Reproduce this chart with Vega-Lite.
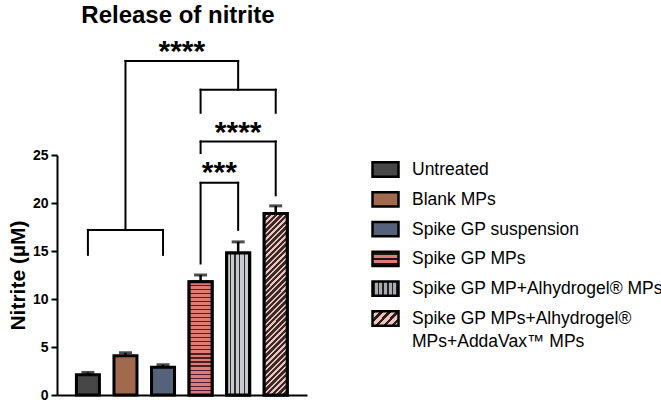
{
  "$schema": "https://vega.github.io/schema/vega-lite/v6.json",
  "autosize": {"type": "none"},
  "padding": {"left": 57, "top": 155, "right": 354, "bottom": 8},
  "width": 250,
  "height": 240,
  "config": {"view": {"stroke": null}, "font": "Liberation Sans"},
  "title": {"text": "Release of nitrite", "fontSize": 24, "font": "Liberation Sans", "fontWeight": "bold", "anchor": "middle", "frame": "group", "offset": 9, "dx": -4, "color": "black"},
  "datasets": {
    "brackets": [
      {"x1": 1, "x2": 3, "y1": 17.2, "y2": 17.2},
      {"x1": 1, "x2": 1, "y1": 14.6, "y2": 17.2},
      {"x1": 3, "x2": 3, "y1": 14.6, "y2": 17.2},
      {"x1": 2, "x2": 2, "y1": 17.2, "y2": 34.8},
      {"x1": 2, "x2": 5, "y1": 34.8, "y2": 34.8},
      {"x1": 5, "x2": 5, "y1": 31.8, "y2": 34.8},
      {"x1": 4, "x2": 6, "y1": 31.8, "y2": 31.8},
      {"x1": 4, "x2": 4, "y1": 29.4, "y2": 31.8},
      {"x1": 6, "x2": 6, "y1": 29.4, "y2": 31.8},
      {"x1": 4, "x2": 6, "y1": 26.4, "y2": 26.4},
      {"x1": 4, "x2": 4, "y1": 25.2, "y2": 26.4},
      {"x1": 6, "x2": 6, "y1": 20.8, "y2": 26.4},
      {"x1": 4, "x2": 5, "y1": 22.1, "y2": 22.1},
      {"x1": 4, "x2": 4, "y1": 13.7, "y2": 22.1},
      {"x1": 5, "x2": 5, "y1": 17.2, "y2": 22.1}
    ],
    "stars": [
      {"x": 3.5, "y": 34.8, "label": "****"},
      {"x": 5, "y": 26.35, "label": "****"},
      {"x": 4.5, "y": 22.2, "label": "***"}
    ]
  },
  "data": {"values": [
    {"group": "Untreated", "x": 1, "nitrite": 2.1, "hi": 2.35},
    {"group": "Blank MPs", "x": 2, "nitrite": 4.1, "hi": 4.4},
    {"group": "Spike GP suspension", "x": 3, "nitrite": 2.9, "hi": 3.15},
    {"group": "Spike GP MPs", "x": 4, "nitrite": 11.8, "hi": 12.5},
    {"group": "Spike GP MP+Alhydrogel® MPs", "x": 5, "nitrite": 14.8, "hi": 15.95},
    {"group": "Spike GP MPs+Alhydrogel® MPs+AddaVax™ MPs", "x": 6, "nitrite": 18.9, "hi": 19.7}
  ]},
  "layer": [
    {
      "mark": {"type": "bar", "width": 23, "stroke": "black", "strokeWidth": 3},
      "encoding": {
        "x": {"field": "x", "type": "quantitative", "title": null,
              "scale": {"domain": [0.31, 6.7], "nice": false, "zero": false},
              "axis": {"ticks": false, "labels": false, "grid": false, "domainWidth": 2, "domainColor": "black"}},
        "y": {"field": "nitrite", "type": "quantitative", "title": "Nitrite (µM)",
              "scale": {"domain": [0, 25], "nice": false},
              "axis": {"values": [0, 5, 10, 15, 20, 25], "grid": false, "domainWidth": 2, "domainColor": "black",
                       "tickColor": "black", "tickWidth": 2, "tickSize": 6, "labelPadding": 3,
                       "labelFont": "Liberation Sans", "labelFontWeight": "bold", "labelFontSize": 14, "labelColor": "black",
                       "titleFont": "Liberation Sans", "titleFontWeight": "bold", "titleFontSize": 21, "titleColor": "black", "titlePadding": 4}},
        "color": {"field": "group", "type": "nominal",
          "scale": {
            "domain": ["Untreated", "Blank MPs", "Spike GP suspension", "Spike GP MPs", "Spike GP MP+Alhydrogel® MPs", "Spike GP MPs+Alhydrogel® MPs+AddaVax™ MPs"],
            "range": [
              "#474747",
              "#a26a4c",
              "#56627a",
              {"expr": "{gradient: 'linear', x1: 0, y1: 0, x2: 0, y2: 1, stops: [{offset: 0, color: '#1e1414'}, {offset: 0.2, color: '#1e1414'}, {offset: 0.2, color: '#e07a7a'}, {offset: 0.42, color: '#e07a7a'}, {offset: 0.42, color: '#1e1414'}, {offset: 0.58, color: '#1e1414'}, {offset: 0.58, color: '#e07a7a'}, {offset: 0.8, color: '#e07a7a'}, {offset: 0.8, color: '#1e1414'}, {offset: 1, color: '#1e1414'}]}"},
              {"expr": "{gradient: 'linear', x1: 0, y1: 0, x2: 1, y2: 0, stops: [{offset: 0, color: '#222222'}, {offset: 0.08, color: '#222222'}, {offset: 0.08, color: '#a9aab0'}, {offset: 0.2, color: '#a9aab0'}, {offset: 0.2, color: '#222222'}, {offset: 0.26, color: '#222222'}, {offset: 0.26, color: '#a9aab0'}, {offset: 0.38, color: '#a9aab0'}, {offset: 0.38, color: '#222222'}, {offset: 0.44, color: '#222222'}, {offset: 0.44, color: '#a9aab0'}, {offset: 0.56, color: '#a9aab0'}, {offset: 0.56, color: '#222222'}, {offset: 0.62, color: '#222222'}, {offset: 0.62, color: '#a9aab0'}, {offset: 0.74, color: '#a9aab0'}, {offset: 0.74, color: '#222222'}, {offset: 0.8, color: '#222222'}, {offset: 0.8, color: '#a9aab0'}, {offset: 0.92, color: '#a9aab0'}, {offset: 0.92, color: '#222222'}, {offset: 1, color: '#222222'}]}"},
              {"expr": "{gradient: 'linear', x1: 0, y1: 0, x2: 1.193, y2: 0.642, stops: [{offset: 0, color: '#2a1c1c'}, {offset: 0.09, color: '#2a1c1c'}, {offset: 0.09, color: '#ecc4bb'}, {offset: 0.2, color: '#ecc4bb'}, {offset: 0.2, color: '#2a1c1c'}, {offset: 0.29, color: '#2a1c1c'}, {offset: 0.29, color: '#ecc4bb'}, {offset: 0.4, color: '#ecc4bb'}, {offset: 0.4, color: '#2a1c1c'}, {offset: 0.49, color: '#2a1c1c'}, {offset: 0.49, color: '#ecc4bb'}, {offset: 0.6, color: '#ecc4bb'}, {offset: 0.6, color: '#2a1c1c'}, {offset: 0.69, color: '#2a1c1c'}, {offset: 0.69, color: '#ecc4bb'}, {offset: 0.8, color: '#ecc4bb'}, {offset: 0.8, color: '#2a1c1c'}, {offset: 0.89, color: '#2a1c1c'}, {offset: 0.89, color: '#ecc4bb'}, {offset: 1, color: '#ecc4bb'}]}"}
            ]
          },
          "legend": {"title": null, "orient": "none", "legendX": 314, "legendY": 0,
                     "symbolType": "M-1,-0.55H1V0.55H-1Z", "symbolSize": 676, "symbolStrokeColor": "black", "symbolStrokeWidth": 2.5,
                     "labelFont": "Liberation Sans", "labelFontSize": 17.5, "labelColor": "black", "labelLimit": 400, "labelOffset": 12, "rowPadding": 2.8,
                     "labelBaseline": "top",
                     "encode": {"labels": {"update": {"dy": {"value": -8.5}, "lineHeight": {"value": 23}}}},
                     "labelExpr": "datum.label == 'Spike GP MPs+Alhydrogel® MPs+AddaVax™ MPs' ? ['Spike GP MPs+Alhydrogel®', 'MPs+AddaVax™ MPs'] : datum.label"}
        }
      }
    },
    {
      "transform": [{"filter": "datum.x == 4"}],
      "mark": {"type": "bar", "width": 23, "stroke": "black", "strokeWidth": 3,
        "fill": {"gradient": "linear", "x1": 0, "y1": 0, "x2": 0, "y2": 1, "stops": [
          {"offset": 0, "color": "#e07a7a"}, {"offset": 0.025, "color": "#e07a7a"}, {"offset": 0.025, "color": "#4a2222"}, {"offset": 0.0357, "color": "#4a2222"},
          {"offset": 0.0357, "color": "#e07a7a"}, {"offset": 0.0607, "color": "#e07a7a"}, {"offset": 0.0607, "color": "#4a2222"}, {"offset": 0.0714, "color": "#4a2222"},
          {"offset": 0.0714, "color": "#e07a7a"}, {"offset": 0.0964, "color": "#e07a7a"}, {"offset": 0.0964, "color": "#4a2222"}, {"offset": 0.1071, "color": "#4a2222"},
          {"offset": 0.1071, "color": "#e07a7a"}, {"offset": 0.1321, "color": "#e07a7a"}, {"offset": 0.1321, "color": "#4a2222"}, {"offset": 0.1429, "color": "#4a2222"},
          {"offset": 0.1429, "color": "#e07a7a"}, {"offset": 0.1679, "color": "#e07a7a"}, {"offset": 0.1679, "color": "#4a2222"}, {"offset": 0.1786, "color": "#4a2222"},
          {"offset": 0.1786, "color": "#e07a7a"}, {"offset": 0.2036, "color": "#e07a7a"}, {"offset": 0.2036, "color": "#4a2222"}, {"offset": 0.2143, "color": "#4a2222"},
          {"offset": 0.2143, "color": "#e07a7a"}, {"offset": 0.2393, "color": "#e07a7a"}, {"offset": 0.2393, "color": "#4a2222"}, {"offset": 0.25, "color": "#4a2222"},
          {"offset": 0.25, "color": "#e07a7a"}, {"offset": 0.275, "color": "#e07a7a"}, {"offset": 0.275, "color": "#4a2222"}, {"offset": 0.2857, "color": "#4a2222"},
          {"offset": 0.2857, "color": "#e07a7a"}, {"offset": 0.3107, "color": "#e07a7a"}, {"offset": 0.3107, "color": "#4a2222"}, {"offset": 0.3214, "color": "#4a2222"},
          {"offset": 0.3214, "color": "#e07a7a"}, {"offset": 0.3464, "color": "#e07a7a"}, {"offset": 0.3464, "color": "#4a2222"}, {"offset": 0.3571, "color": "#4a2222"},
          {"offset": 0.3571, "color": "#e07a7a"}, {"offset": 0.3821, "color": "#e07a7a"}, {"offset": 0.3821, "color": "#4a2222"}, {"offset": 0.3929, "color": "#4a2222"},
          {"offset": 0.3929, "color": "#e07a7a"}, {"offset": 0.4179, "color": "#e07a7a"}, {"offset": 0.4179, "color": "#4a2222"}, {"offset": 0.4286, "color": "#4a2222"},
          {"offset": 0.4286, "color": "#e07a7a"}, {"offset": 0.4536, "color": "#e07a7a"}, {"offset": 0.4536, "color": "#4a2222"}, {"offset": 0.4643, "color": "#4a2222"},
          {"offset": 0.4643, "color": "#e07a7a"}, {"offset": 0.4893, "color": "#e07a7a"}, {"offset": 0.4893, "color": "#4a2222"}, {"offset": 0.5, "color": "#4a2222"},
          {"offset": 0.5, "color": "#e07a7a"}, {"offset": 0.525, "color": "#e07a7a"}, {"offset": 0.525, "color": "#4a2222"}, {"offset": 0.5357, "color": "#4a2222"},
          {"offset": 0.5357, "color": "#e07a7a"}, {"offset": 0.5607, "color": "#e07a7a"}, {"offset": 0.5607, "color": "#4a2222"}, {"offset": 0.5714, "color": "#4a2222"},
          {"offset": 0.5714, "color": "#e07a7a"}, {"offset": 0.5964, "color": "#e07a7a"}, {"offset": 0.5964, "color": "#4a2222"}, {"offset": 0.6071, "color": "#4a2222"},
          {"offset": 0.6071, "color": "#e07a7a"}, {"offset": 0.6321, "color": "#e07a7a"}, {"offset": 0.6321, "color": "#4a2222"}, {"offset": 0.6429, "color": "#4a2222"},
          {"offset": 0.6429, "color": "#e07a7a"}, {"offset": 0.6679, "color": "#e07a7a"}, {"offset": 0.6679, "color": "#4a2222"}, {"offset": 0.6786, "color": "#4a2222"},
          {"offset": 0.6786, "color": "#e07a7a"}, {"offset": 0.7036, "color": "#e07a7a"}, {"offset": 0.7036, "color": "#4a2222"}, {"offset": 0.7143, "color": "#4a2222"},
          {"offset": 0.7143, "color": "#e07a7a"}, {"offset": 0.7393, "color": "#e07a7a"}, {"offset": 0.7393, "color": "#4a2222"}, {"offset": 0.75, "color": "#4a2222"},
          {"offset": 0.75, "color": "#e07a7a"}, {"offset": 0.775, "color": "#e07a7a"}, {"offset": 0.775, "color": "#4a2222"}, {"offset": 0.7857, "color": "#4a2222"},
          {"offset": 0.7857, "color": "#e07a7a"}, {"offset": 0.8107, "color": "#e07a7a"}, {"offset": 0.8107, "color": "#4a2222"}, {"offset": 0.8214, "color": "#4a2222"},
          {"offset": 0.8214, "color": "#e07a7a"}, {"offset": 0.8464, "color": "#e07a7a"}, {"offset": 0.8464, "color": "#4a2222"}, {"offset": 0.8571, "color": "#4a2222"},
          {"offset": 0.8571, "color": "#e07a7a"}, {"offset": 0.8821, "color": "#e07a7a"}, {"offset": 0.8821, "color": "#4a2222"}, {"offset": 0.8929, "color": "#4a2222"},
          {"offset": 0.8929, "color": "#e07a7a"}, {"offset": 0.9179, "color": "#e07a7a"}, {"offset": 0.9179, "color": "#4a2222"}, {"offset": 0.9286, "color": "#4a2222"},
          {"offset": 0.9286, "color": "#e07a7a"}, {"offset": 0.9536, "color": "#e07a7a"}, {"offset": 0.9536, "color": "#4a2222"}, {"offset": 0.9643, "color": "#4a2222"},
          {"offset": 0.9643, "color": "#e07a7a"}, {"offset": 0.9893, "color": "#e07a7a"}, {"offset": 0.9893, "color": "#4a2222"}, {"offset": 1, "color": "#4a2222"}]}},
      "encoding": {
        "x": {"field": "x", "type": "quantitative", "title": null},
        "y": {"field": "nitrite", "type": "quantitative", "title": "Nitrite (µM)"}
      }
    },
    {
      "transform": [{"filter": "datum.x == 5"}],
      "mark": {"type": "bar", "width": 23, "stroke": "black", "strokeWidth": 3,
        "fill": {"gradient": "linear", "x1": 0, "y1": 0, "x2": 1, "y2": 0, "stops": [
          {"offset": 0, "color": "#c8c9ce"}, {"offset": 0.14, "color": "#c8c9ce"}, {"offset": 0.14, "color": "#2d2d2f"}, {"offset": 0.2, "color": "#2d2d2f"},
          {"offset": 0.2, "color": "#c8c9ce"}, {"offset": 0.34, "color": "#c8c9ce"}, {"offset": 0.34, "color": "#2d2d2f"}, {"offset": 0.4, "color": "#2d2d2f"},
          {"offset": 0.4, "color": "#c8c9ce"}, {"offset": 0.54, "color": "#c8c9ce"}, {"offset": 0.54, "color": "#2d2d2f"}, {"offset": 0.6, "color": "#2d2d2f"},
          {"offset": 0.6, "color": "#c8c9ce"}, {"offset": 0.74, "color": "#c8c9ce"}, {"offset": 0.74, "color": "#2d2d2f"}, {"offset": 0.8, "color": "#2d2d2f"},
          {"offset": 0.8, "color": "#c8c9ce"}, {"offset": 0.94, "color": "#c8c9ce"}, {"offset": 0.94, "color": "#2d2d2f"}, {"offset": 1, "color": "#2d2d2f"}]}},
      "encoding": {
        "x": {"field": "x", "type": "quantitative", "title": null},
        "y": {"field": "nitrite", "type": "quantitative", "title": "Nitrite (µM)"}
      }
    },
    {
      "transform": [{"filter": "datum.x == 6"}],
      "mark": {"type": "bar", "width": 23, "stroke": "black", "strokeWidth": 3,
        "fill": {"gradient": "linear", "x1": 0, "y1": 0, "x2": 0.141, "y2": 1.109, "stops": [
          {"offset": 0, "color": "#3b2a2a"}, {"offset": 0.0167, "color": "#3b2a2a"}, {"offset": 0.0167, "color": "#ecc4bb"}, {"offset": 0.0278, "color": "#ecc4bb"},
          {"offset": 0.0278, "color": "#3b2a2a"}, {"offset": 0.0445, "color": "#3b2a2a"}, {"offset": 0.0445, "color": "#ecc4bb"}, {"offset": 0.0556, "color": "#ecc4bb"},
          {"offset": 0.0556, "color": "#3b2a2a"}, {"offset": 0.0723, "color": "#3b2a2a"}, {"offset": 0.0723, "color": "#ecc4bb"}, {"offset": 0.0833, "color": "#ecc4bb"},
          {"offset": 0.0833, "color": "#3b2a2a"}, {"offset": 0.1, "color": "#3b2a2a"}, {"offset": 0.1, "color": "#ecc4bb"}, {"offset": 0.1111, "color": "#ecc4bb"},
          {"offset": 0.1111, "color": "#3b2a2a"}, {"offset": 0.1278, "color": "#3b2a2a"}, {"offset": 0.1278, "color": "#ecc4bb"}, {"offset": 0.1389, "color": "#ecc4bb"},
          {"offset": 0.1389, "color": "#3b2a2a"}, {"offset": 0.1556, "color": "#3b2a2a"}, {"offset": 0.1556, "color": "#ecc4bb"}, {"offset": 0.1667, "color": "#ecc4bb"},
          {"offset": 0.1667, "color": "#3b2a2a"}, {"offset": 0.1834, "color": "#3b2a2a"}, {"offset": 0.1834, "color": "#ecc4bb"}, {"offset": 0.1944, "color": "#ecc4bb"},
          {"offset": 0.1944, "color": "#3b2a2a"}, {"offset": 0.2111, "color": "#3b2a2a"}, {"offset": 0.2111, "color": "#ecc4bb"}, {"offset": 0.2222, "color": "#ecc4bb"},
          {"offset": 0.2222, "color": "#3b2a2a"}, {"offset": 0.2389, "color": "#3b2a2a"}, {"offset": 0.2389, "color": "#ecc4bb"}, {"offset": 0.25, "color": "#ecc4bb"},
          {"offset": 0.25, "color": "#3b2a2a"}, {"offset": 0.2667, "color": "#3b2a2a"}, {"offset": 0.2667, "color": "#ecc4bb"}, {"offset": 0.2778, "color": "#ecc4bb"},
          {"offset": 0.2778, "color": "#3b2a2a"}, {"offset": 0.2945, "color": "#3b2a2a"}, {"offset": 0.2945, "color": "#ecc4bb"}, {"offset": 0.3056, "color": "#ecc4bb"},
          {"offset": 0.3056, "color": "#3b2a2a"}, {"offset": 0.3223, "color": "#3b2a2a"}, {"offset": 0.3223, "color": "#ecc4bb"}, {"offset": 0.3333, "color": "#ecc4bb"},
          {"offset": 0.3333, "color": "#3b2a2a"}, {"offset": 0.35, "color": "#3b2a2a"}, {"offset": 0.35, "color": "#ecc4bb"}, {"offset": 0.3611, "color": "#ecc4bb"},
          {"offset": 0.3611, "color": "#3b2a2a"}, {"offset": 0.3778, "color": "#3b2a2a"}, {"offset": 0.3778, "color": "#ecc4bb"}, {"offset": 0.3889, "color": "#ecc4bb"},
          {"offset": 0.3889, "color": "#3b2a2a"}, {"offset": 0.4056, "color": "#3b2a2a"}, {"offset": 0.4056, "color": "#ecc4bb"}, {"offset": 0.4167, "color": "#ecc4bb"},
          {"offset": 0.4167, "color": "#3b2a2a"}, {"offset": 0.4334, "color": "#3b2a2a"}, {"offset": 0.4334, "color": "#ecc4bb"}, {"offset": 0.4444, "color": "#ecc4bb"},
          {"offset": 0.4444, "color": "#3b2a2a"}, {"offset": 0.4611, "color": "#3b2a2a"}, {"offset": 0.4611, "color": "#ecc4bb"}, {"offset": 0.4722, "color": "#ecc4bb"},
          {"offset": 0.4722, "color": "#3b2a2a"}, {"offset": 0.4889, "color": "#3b2a2a"}, {"offset": 0.4889, "color": "#ecc4bb"}, {"offset": 0.5, "color": "#ecc4bb"},
          {"offset": 0.5, "color": "#3b2a2a"}, {"offset": 0.5167, "color": "#3b2a2a"}, {"offset": 0.5167, "color": "#ecc4bb"}, {"offset": 0.5278, "color": "#ecc4bb"},
          {"offset": 0.5278, "color": "#3b2a2a"}, {"offset": 0.5445, "color": "#3b2a2a"}, {"offset": 0.5445, "color": "#ecc4bb"}, {"offset": 0.5556, "color": "#ecc4bb"},
          {"offset": 0.5556, "color": "#3b2a2a"}, {"offset": 0.5723, "color": "#3b2a2a"}, {"offset": 0.5723, "color": "#ecc4bb"}, {"offset": 0.5833, "color": "#ecc4bb"},
          {"offset": 0.5833, "color": "#3b2a2a"}, {"offset": 0.6, "color": "#3b2a2a"}, {"offset": 0.6, "color": "#ecc4bb"}, {"offset": 0.6111, "color": "#ecc4bb"},
          {"offset": 0.6111, "color": "#3b2a2a"}, {"offset": 0.6278, "color": "#3b2a2a"}, {"offset": 0.6278, "color": "#ecc4bb"}, {"offset": 0.6389, "color": "#ecc4bb"},
          {"offset": 0.6389, "color": "#3b2a2a"}, {"offset": 0.6556, "color": "#3b2a2a"}, {"offset": 0.6556, "color": "#ecc4bb"}, {"offset": 0.6667, "color": "#ecc4bb"},
          {"offset": 0.6667, "color": "#3b2a2a"}, {"offset": 0.6834, "color": "#3b2a2a"}, {"offset": 0.6834, "color": "#ecc4bb"}, {"offset": 0.6944, "color": "#ecc4bb"},
          {"offset": 0.6944, "color": "#3b2a2a"}, {"offset": 0.7111, "color": "#3b2a2a"}, {"offset": 0.7111, "color": "#ecc4bb"}, {"offset": 0.7222, "color": "#ecc4bb"},
          {"offset": 0.7222, "color": "#3b2a2a"}, {"offset": 0.7389, "color": "#3b2a2a"}, {"offset": 0.7389, "color": "#ecc4bb"}, {"offset": 0.75, "color": "#ecc4bb"},
          {"offset": 0.75, "color": "#3b2a2a"}, {"offset": 0.7667, "color": "#3b2a2a"}, {"offset": 0.7667, "color": "#ecc4bb"}, {"offset": 0.7778, "color": "#ecc4bb"},
          {"offset": 0.7778, "color": "#3b2a2a"}, {"offset": 0.7945, "color": "#3b2a2a"}, {"offset": 0.7945, "color": "#ecc4bb"}, {"offset": 0.8056, "color": "#ecc4bb"},
          {"offset": 0.8056, "color": "#3b2a2a"}, {"offset": 0.8223, "color": "#3b2a2a"}, {"offset": 0.8223, "color": "#ecc4bb"}, {"offset": 0.8333, "color": "#ecc4bb"},
          {"offset": 0.8333, "color": "#3b2a2a"}, {"offset": 0.85, "color": "#3b2a2a"}, {"offset": 0.85, "color": "#ecc4bb"}, {"offset": 0.8611, "color": "#ecc4bb"},
          {"offset": 0.8611, "color": "#3b2a2a"}, {"offset": 0.8778, "color": "#3b2a2a"}, {"offset": 0.8778, "color": "#ecc4bb"}, {"offset": 0.8889, "color": "#ecc4bb"},
          {"offset": 0.8889, "color": "#3b2a2a"}, {"offset": 0.9056, "color": "#3b2a2a"}, {"offset": 0.9056, "color": "#ecc4bb"}, {"offset": 0.9167, "color": "#ecc4bb"},
          {"offset": 0.9167, "color": "#3b2a2a"}, {"offset": 0.9334, "color": "#3b2a2a"}, {"offset": 0.9334, "color": "#ecc4bb"}, {"offset": 0.9444, "color": "#ecc4bb"},
          {"offset": 0.9444, "color": "#3b2a2a"}, {"offset": 0.9611, "color": "#3b2a2a"}, {"offset": 0.9611, "color": "#ecc4bb"}, {"offset": 0.9722, "color": "#ecc4bb"},
          {"offset": 0.9722, "color": "#3b2a2a"}, {"offset": 0.9889, "color": "#3b2a2a"}, {"offset": 0.9889, "color": "#ecc4bb"}, {"offset": 1, "color": "#ecc4bb"}]}},
      "encoding": {
        "x": {"field": "x", "type": "quantitative", "title": null},
        "y": {"field": "nitrite", "type": "quantitative", "title": "Nitrite (µM)"}
      }
    },
    {
      "mark": {"type": "rule", "color": "black", "strokeWidth": 2.5},
      "encoding": {
        "x": {"field": "x", "type": "quantitative", "title": null},
        "y": {"field": "nitrite", "type": "quantitative", "title": "Nitrite (µM)"},
        "y2": {"field": "hi"}
      }
    },
    {
      "mark": {"type": "tick", "orient": "horizontal", "color": "black", "size": 13, "thickness": 3},
      "encoding": {
        "x": {"field": "x", "type": "quantitative", "title": null},
        "y": {"field": "hi", "type": "quantitative", "title": "Nitrite (µM)"}
      }
    },
    {
      "data": {"name": "brackets"},
      "mark": {"type": "rule", "color": "black", "strokeWidth": 2, "strokeCap": "square"},
      "encoding": {
        "x": {"field": "x1", "type": "quantitative", "title": null},
        "x2": {"field": "x2"},
        "y": {"field": "y1", "type": "quantitative", "title": "Nitrite (µM)"},
        "y2": {"field": "y2"}
      }
    },
    {
      "data": {"name": "stars"},
      "mark": {"type": "text", "font": "Liberation Sans", "fontWeight": "bold", "fontSize": 30, "baseline": "alphabetic", "align": "center", "color": "black"},
      "encoding": {
        "x": {"field": "x", "type": "quantitative", "title": null},
        "y": {"field": "y", "type": "quantitative", "title": "Nitrite (µM)"},
        "text": {"field": "label"}
      }
    }
  ]
}
